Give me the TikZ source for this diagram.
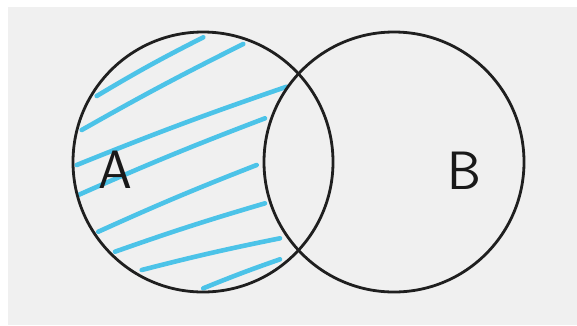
\documentclass[tikz,border=0pt]{standalone}
\usepackage{fontspec}
\begin{document}
\begin{tikzpicture}[x=1pt,y=-1pt,
  setcircle/.style={circle, draw=black!88, line width=2.8pt, minimum size=260pt, inner sep=0pt},
  hatch/.style={color={rgb,255:red,76;green,195;blue,232}, line width=4.6pt, line cap=round},
  lbl/.style={font=\sffamily\fontsize{54}{54}\selectfont, text=black!90}]
\useasboundingbox (0,0) rectangle (577,325);
\fill[white] (0,0) rectangle (577,325);
\fill[black!6] (8,7) rectangle (577,325);
\begin{scope}[hatch]
\draw (96.7,96) to[bend left=2] (203.3,37.3);
\draw (81.7,130) to[bend left=1.5] (243.3,44);
\draw (76.7,165) to[bend left=1.5] (286.7,86.7);
\draw (78.3,195) to[bend left=1.5] (265,118.3);
\draw (98.3,231.7) to[bend left=1.5] (256.7,165);
\draw (115,251.7) to[bend left=1.5] (265,203.3);
\draw (141.7,270) to[bend left=1.5] (280,238.3);
\draw (203.3,288.3) to[bend left=1.5] (280,259.3);
\end{scope}
\node[setcircle] (A) at (203,162) {};
\node[setcircle] (B) at (394,162) {};
\node[lbl] (la) at (115,170) {A};
\node[lbl] (lb) at (464,171) {B};
\end{tikzpicture}
\end{document}
